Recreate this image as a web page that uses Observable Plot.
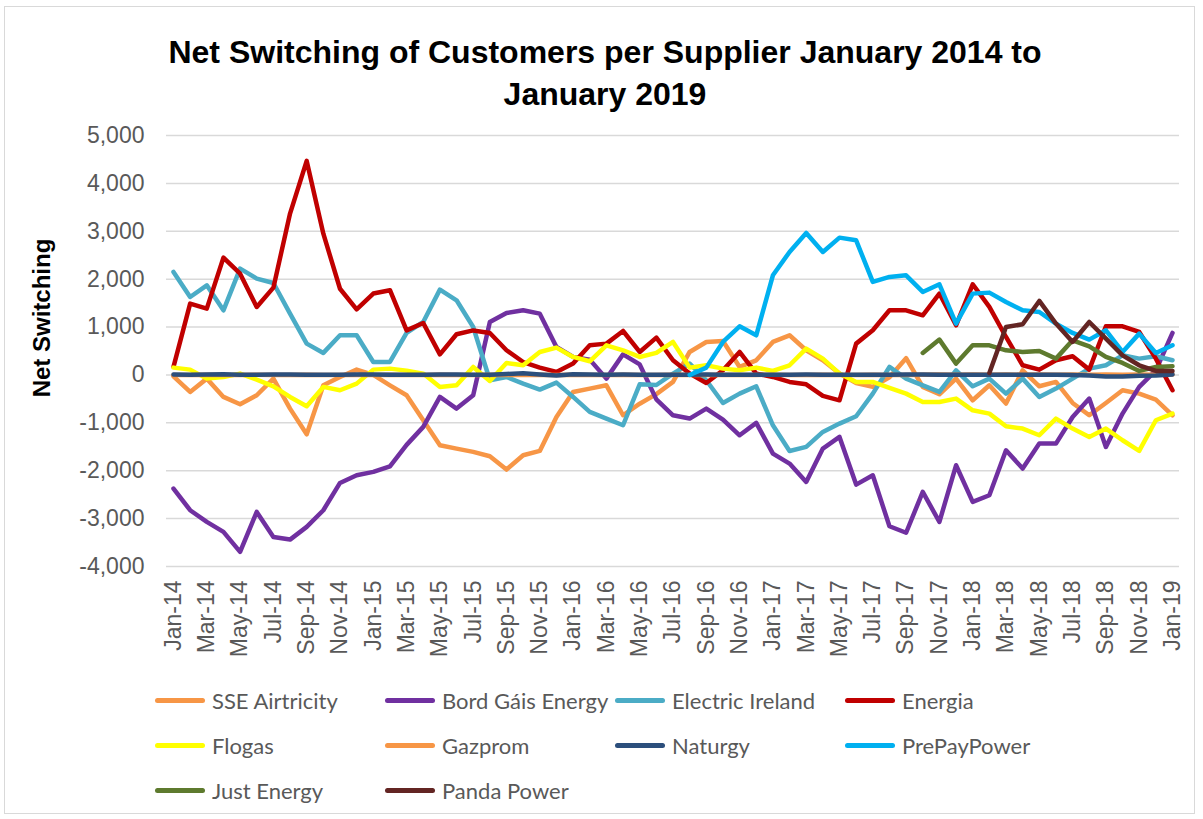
<!DOCTYPE html>
<html>
<head>
<meta charset="utf-8">
<script src="https://cdn.jsdelivr.net/npm/d3@7"></script>
<script src="https://cdn.jsdelivr.net/npm/@observablehq/plot@0.6"></script>
<style>
  html, body { margin: 0; padding: 0; background: #fff; }
  #wrap { position: relative; width: 1203px; height: 819px; overflow: hidden; }
  #frame { position: absolute; left: 4px; top: 6px; width: 1191px; height: 808px; border: 1.5px solid #D9D9D9; box-sizing: border-box; }
  #title { position: absolute; left: 0; width: 1210px; top: 31px; text-align: center; font-family: 'Liberation Sans', Arial, sans-serif; font-weight: bold; font-size: 32px; line-height: 42px; color: #000; }
  #ylabel { position: absolute; left: 42px; top: 318px; transform: translate(-50%, -50%) rotate(-90deg); white-space: nowrap; font-family: 'Liberation Sans', Arial, sans-serif; font-weight: bold; font-size: 24px; color: #000; }
  #chart { position: absolute; left: 0; top: 110px; }
  .leg { position: absolute; display: flex; align-items: center; font-family: Lato, 'Open Sans', sans-serif; font-size: 22px; color: #595959; white-space: nowrap; }
  .leg .sw { width: 50px; height: 5px; border-radius: 3px; margin-right: 7px; }
</style>
</head>
<body>
<div id="wrap">
  <div id="frame"></div>
  <div id="title">Net Switching of Customers per Supplier January 2014 to<br>January 2019</div>
  <div id="ylabel">Net Switching</div>
  <div id="chart"></div>
  <div id="legend"></div>
</div>
<script>
const months = ["Jan-14","Feb-14","Mar-14","Apr-14","May-14","Jun-14","Jul-14","Aug-14","Sep-14","Oct-14","Nov-14","Dec-14",
"Jan-15","Feb-15","Mar-15","Apr-15","May-15","Jun-15","Jul-15","Aug-15","Sep-15","Oct-15","Nov-15","Dec-15",
"Jan-16","Feb-16","Mar-16","Apr-16","May-16","Jun-16","Jul-16","Aug-16","Sep-16","Oct-16","Nov-16","Dec-16",
"Jan-17","Feb-17","Mar-17","Apr-17","May-17","Jun-17","Jul-17","Aug-17","Sep-17","Oct-17","Nov-17","Dec-17",
"Jan-18","Feb-18","Mar-18","Apr-18","May-18","Jun-18","Jul-18","Aug-18","Sep-18","Oct-18","Nov-18","Dec-18",
"Jan-19"];

const yTicks = [-4000,-3000,-2000,-1000,0,1000,2000,3000,4000,5000];

const names = ["SSE Airtricity","Bord Gáis Energy","Electric Ireland","Energia","Flogas","Gazprom","Naturgy","PrePayPower","Just Energy","Panda Power"];
const colors = ["#F79646","#7030A0","#4BACC6","#C00000","#FFFF00","#F79646","#2C4F7C","#00B0F0","#5E7A2E","#632523"];

const sseAirtricity = [-28,-355,-77,-459,-612,-424,-77,-703,-1239,-216,-42,111,
0,-216,-424,-946,-1468,-1538,-1607,-1698,-1976,-1677,-1587,-877,
-355,-285,-216,-842,-600,-400,-146,480,689,710,167,306,
689,828,515,306,28,-167,-250,-50,350,-250,-404,-77,
-529,-216,-598,97,-237,-146,-585,-842,-585,-320,-390,-515,
-842];

const bordGais = [-2373,-2825,-3069,-3278,-3695,-2860,-3382,-3438,-3173,-2825,-2255,-2095,
-2025,-1907,-1460,-1085,-459,-703,-424,1106,1294,1350,1280,585,
376,320,-77,431,220,-510,-842,-911,-703,-932,-1260,-1002,
-1642,-1851,-2234,-1538,-1294,-2290,-2095,-3159,-3295,-2443,-3069,-1886,
-2651,-2512,-1573,-1955,-1434,-1434,-877,-494,-1503,-807,-250,97,
877];

const electricIreland = [2150,1628,1872,1350,2220,2011,1920,1280,654,460,828,828,
271,271,880,1106,1781,1559,1002,-111,-42,-181,-306,-160,
-459,-772,-911,-1051,-195,-210,28,237,-111,-585,-390,-237,
-1051,-1587,-1503,-1190,-1016,-863,-390,167,-77,-216,-355,97,
-237,-77,-390,-77,-459,-285,-77,132,202,410,341,390,
306];

const energia = [170,1490,1385,2450,2115,1420,1823,3370,4470,2950,1800,1370,
1700,1770,930,1085,430,850,930,877,515,270,153,63,
237,620,654,918,480,780,306,28,-167,97,480,28,
-42,-146,-195,-438,-530,654,932,1350,1350,1245,1700,1037,
1893,1420,793,202,111,306,390,111,1016,1016,898,341,
-320];

const flogas = [153,111,-77,-42,28,-97,-237,-459,-654,-250,-320,-181,
111,132,90,28,-250,-216,167,-125,250,202,480,571,
376,285,619,515,376,460,689,153,202,132,97,153,
84,202,550,341,28,-146,-146,-270,-390,-564,-564,-494,
-738,-807,-1072,-1120,-1260,-911,-1120,-1294,-1120,-1364,-1587,-946,
-807];

const gazprom = [0,0,5,0,0,5,0,0,5,0,0,5,
0,5,0,0,5,0,0,5,0,0,5,0,
5,0,0,5,0,0,5,0,0,5,0,0,
5,0,0,5,0,0,5,0,0,5,10,5,
10,5,10,5,10,5,10,5,10,5,10,5,
10];

const naturgy = [10,5,8,12,6,4,10,8,5,3,6,8,
10,4,2,6,8,10,5,3,20,35,10,-10,
15,10,5,8,6,4,2,5,8,6,3,2,
4,6,8,5,3,2,4,6,8,10,5,3,
2,4,6,5,3,2,0,-10,-30,-35,-15,-10,
10];

const prePayPower = [null,null,null,null,null,null,null,null,null,null,null,null,
null,null,null,null,null,null,null,null,null,null,null,null,
null,null,null,null,null,null,null,0,153,689,1016,828,
2081,2568,2965,2568,2867,2811,1942,2046,2081,1733,1893,1072,
1698,1719,1524,1350,1315,1072,877,738,932,480,863,459,
619];

const justEnergy = [null,null,null,null,null,null,null,null,null,null,null,null,
null,null,null,null,null,null,null,null,null,null,null,null,
null,null,null,null,null,null,null,null,null,null,null,null,
null,null,null,null,null,null,null,null,null,459,738,237,
619,619,515,480,501,341,724,598,376,250,84,167,
181];

const pandaPower = [null,null,null,null,null,null,null,null,null,null,null,null,
null,null,null,null,null,null,null,null,null,null,null,null,
null,null,null,null,null,null,null,null,null,null,null,null,
null,null,null,null,null,null,null,null,null,null,null,null,
null,42,1002,1058,1545,1072,689,1106,759,410,202,84,
84];

const seriesValues = [sseAirtricity, bordGais, electricIreland, energia, flogas, gazprom, naturgy, prePayPower, justEnergy, pandaPower];

const rows = [];
names.forEach((n, s) => {
  seriesValues[s].forEach((v, i) => { if (v != null) rows.push({series: n, i, v}); });
});

const fmt = v => (v < 0 ? "-" : "") + d3.format(",")(Math.abs(v));
const xTicks = months.map((m, i) => i).filter(i => i % 2 === 0);

const chart = Plot.plot({
  width: 1203,
  height: 560,
  marginLeft: 166,
  marginRight: 24,
  marginTop: 25,
  marginBottom: 104,
  style: {fontFamily: "'Liberation Sans', Arial, sans-serif", fontSize: "23px", color: "#595959", background: "transparent", overflow: "visible"},
  x: {domain: [-0.42, 60.42], ticks: xTicks, tickFormat: i => months[i], tickRotate: -90, tickSize: 0, tickPadding: 14, label: null},
  y: {domain: [-4000, 5000], ticks: yTicks, tickFormat: fmt, tickSize: 0, tickPadding: 22, label: null},
  color: {domain: names, range: colors},
  marks: [
    Plot.ruleY(yTicks, {stroke: "#D9D9D9", strokeWidth: 1.5}),
    Plot.line(rows, {x: "i", y: "v", z: "series", stroke: "series", strokeWidth: 4.5, strokeLinejoin: "round", strokeLinecap: "round"})
  ]
});
document.getElementById("chart").appendChild(chart);

// legend
const legCols = [155, 385, 615, 845];
const legRows = [700, 745, 790];
const legend = document.getElementById("legend");
names.forEach((n, k) => {
  const d = document.createElement("div");
  d.className = "leg";
  d.style.left = legCols[k % 4] + "px";
  d.style.top = (legRows[Math.floor(k / 4)] - 15) + "px";
  d.style.height = "30px";
  const sw = document.createElement("div");
  sw.className = "sw";
  sw.style.background = colors[k];
  const t = document.createElement("span");
  t.textContent = n;
  d.appendChild(sw); d.appendChild(t);
  legend.appendChild(d);
});
</script>
</body>
</html>
